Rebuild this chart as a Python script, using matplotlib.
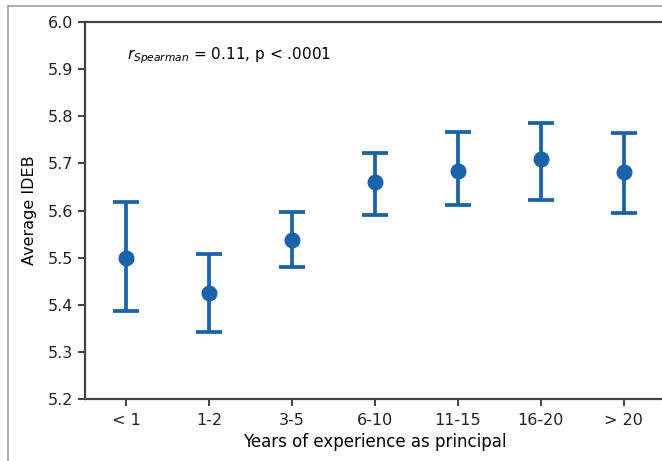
import matplotlib
matplotlib.use("Agg")
import matplotlib.pyplot as plt
from matplotlib.lines import Line2D

categories = ["< 1", "1-2", "3-5", "6-10", "11-15", "16-20", "> 20"]
means = [5.500, 5.424, 5.538, 5.660, 5.684, 5.709, 5.681]
upper = [5.619, 5.507, 5.597, 5.723, 5.767, 5.786, 5.764]
lower = [5.386, 5.342, 5.481, 5.591, 5.611, 5.623, 5.595]
yticks = [5.2, 5.3, 5.4, 5.5, 5.6, 5.7, 5.8, 5.9, 6.0]

W, H = 662, 461
fig = plt.figure(figsize=(W / 100, H / 100), dpi=100)
ax = fig.add_axes([85 / W, 62 / H, 580 / W, 377 / H])

x = list(range(len(categories)))
err_lo = [m - l for m, l in zip(means, lower)]
err_hi = [u - m for m, u in zip(means, upper)]
color = "#1a63aa"
ax.errorbar(x, means, yerr=[err_lo, err_hi], fmt="o", color=color,
            ecolor=color, elinewidth=2.7, capsize=9.5, capthick=2.7,
            markersize=10.5, zorder=3)

ax.set_xlim(-0.5, 6.5)
ax.set_ylim(5.2, 6.0)
ax.set_xticks(x)
ax.set_xticklabels(categories, fontsize=11.5)
ax.set_yticks(yticks)
ax.set_yticklabels([f"{v:.1f}" for v in yticks], fontsize=11.5)
ax.tick_params(axis="x", pad=5)
ax.set_xlabel("Years of experience as principal", fontsize=12, labelpad=4)
ax.set_ylabel("Average IDEB", fontsize=11.5, labelpad=8)
for s in ["left", "top", "bottom"]:
    ax.spines[s].set_color("#444444")
    ax.spines[s].set_linewidth(1.6)
ax.spines["right"].set_visible(False)
ax.tick_params(colors="#222222", length=5, width=1.2)

ax.text(0.072, 0.91, r"$r_{Spearman}$ = 0.11, p < .0001", transform=ax.transAxes,
        fontsize=11, va="center", ha="left")

# outer screenshot frame (top and left gray lines)
fig.add_artist(Line2D([8 / W, 1.0], [1 - 6 / H, 1 - 6 / H], transform=fig.transFigure,
                      color="#a0a0a0", linewidth=1.2))
fig.add_artist(Line2D([8 / W, 8 / W], [0.0, 1 - 6 / H], transform=fig.transFigure,
                      color="#a0a0a0", linewidth=1.2))

fig.savefig("out.png", dpi=100)
